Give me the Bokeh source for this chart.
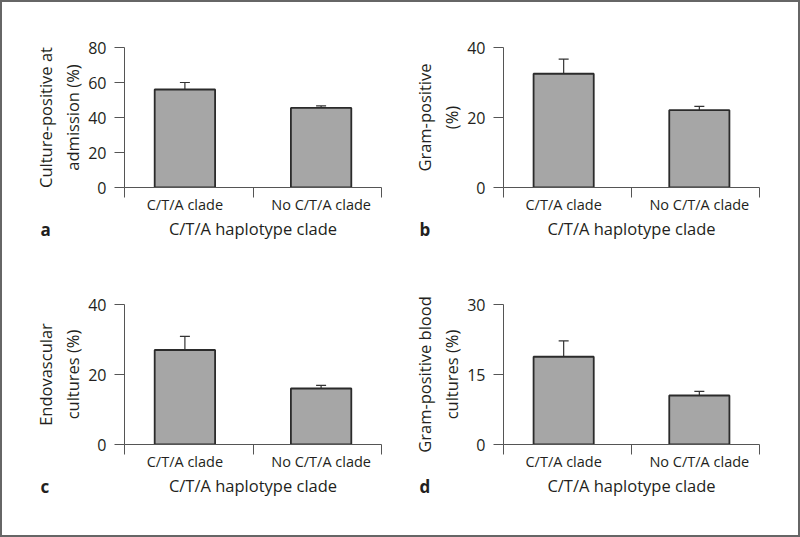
from bokeh.plotting import figure
from bokeh.layouts import column, row
from bokeh.models import FixedTicker, Range1d, Title, ColumnDataSource
from bokeh.embed import file_html
from bokeh.resources import INLINE

# ---- data ----
categories = ["C/T/A clade", "No C/T/A clade"]
x_title = "C/T/A haplotype clade"

a_vals = [56.0, 45.5]
a_errs = [4.0, 1.1]
b_vals = [32.5, 22.1]
b_errs = [4.2, 1.1]
c_vals = [27.0, 16.0]
c_errs = [3.9, 0.9]
d_vals = [18.8, 10.5]
d_errs = [3.4, 0.9]

a_ticks = [0, 20, 40, 60, 80]
b_ticks = [0, 20, 40]
c_ticks = [0, 20, 40]
d_ticks = [0, 15, 30]

panels = [
    ("a", "Culture-positive at\nadmission (%)", a_vals, a_errs, a_ticks),
    ("b", "Gram-positive\n(%)", b_vals, b_errs, b_ticks),
    ("c", "Endovascular\ncultures (%)", c_vals, c_errs, c_ticks),
    ("d", "Gram-positive blood\ncultures (%)", d_vals, d_errs, d_ticks),
]

FONT = "Open Sans"
TEXT = "#231f20"
AXIS = "#555555"
BAR_FILL = "#a6a6a6"
BAR_LINE = "#2b2b2b"

bar_pos = [0.47, 1.53]
bar_w = 0.47


def make_panel(idx, letter, ylabel, vals, errs, ticks):
    left_col = idx % 2 == 0
    top_row = idx < 2
    width = 398
    height = 256 if top_row else 277
    p = figure(width=width, height=height, output_backend="svg",
               toolbar_location=None, tools="",
               x_range=Range1d(0, 2), y_range=Range1d(ticks[0], ticks[-1]))
    p.min_border_left = 122 if left_col else 103
    p.min_border_right = 19 if left_col else 39
    p.min_border_top = 45 if top_row else 46
    p.min_border_bottom = 71 if top_row else 91
    p.outline_line_color = None
    p.grid.visible = False
    p.background_fill_color = "white"
    p.border_fill_color = "white"

    src = ColumnDataSource(dict(x=bar_pos, top=vals,
                                etop=[v + e for v, e in zip(vals, errs)],
                                label=categories))
    p.segment(x0="x", y0="top", x1="x", y1="etop", source=src,
              line_color="#333333", line_width=1.2)
    p.dash(x="x", y="etop", size=10, source=src, line_color="#333333",
           line_width=1.2)
    p.vbar(x="x", top="top", bottom=0, width=bar_w, source=src,
           fill_color=BAR_FILL, line_color=BAR_LINE, line_width=1.8)

    # x axis
    xa = p.xaxis[0]
    xa.ticker = FixedTicker(ticks=bar_pos, minor_ticks=[0, 1, 2])
    xa.major_label_overrides = {bar_pos[0]: categories[0], bar_pos[1]: categories[1]}
    xa.major_tick_out = 0
    xa.major_tick_in = 0
    xa.minor_tick_out = 10
    xa.minor_tick_in = 0
    xa.minor_tick_line_color = AXIS
    xa.axis_line_color = AXIS
    xa.major_label_text_font = FONT
    xa.major_label_text_font_size = "14.5px"
    xa.major_label_text_color = TEXT
    xa.major_label_standoff = -3
    xa.axis_label = x_title
    xa.axis_label_text_font = FONT
    xa.axis_label_text_font_size = "16.5px"
    xa.axis_label_text_font_style = "normal"
    xa.axis_label_text_color = TEXT
    xa.axis_label_standoff = 0

    # y axis
    ya = p.yaxis[0]
    ya.ticker = FixedTicker(ticks=ticks)
    ya.major_tick_out = 10
    ya.major_tick_in = 0
    ya.minor_tick_out = 0
    ya.minor_tick_in = 0
    ya.major_tick_line_color = AXIS
    ya.axis_line_color = AXIS
    ya.major_label_text_font = FONT
    ya.major_label_text_font_size = "16px"
    ya.major_label_text_color = TEXT
    ya.major_label_standoff = 8
    ya.axis_label = ylabel
    ya.axis_label_text_font = FONT
    ya.axis_label_text_font_size = "16.5px"
    ya.axis_label_text_font_style = "normal"
    ya.axis_label_text_color = TEXT
    ya.axis_label_standoff = 1

    t = Title(text=letter, align="left", offset=-84, vertical_align="top",
              text_font=FONT, text_font_size="17px", text_font_style="bold",
              text_color=TEXT, standoff=-50)
    p.add_layout(t, "below")
    return p


figs = [make_panel(i, *pn) for i, pn in enumerate(panels)]
layout = column(row(figs[0], figs[1]), row(figs[2], figs[3]),
                styles={"border": "2px solid #666666"})

with open("out.html", "w") as f:
    f.write(file_html(layout, INLINE))
